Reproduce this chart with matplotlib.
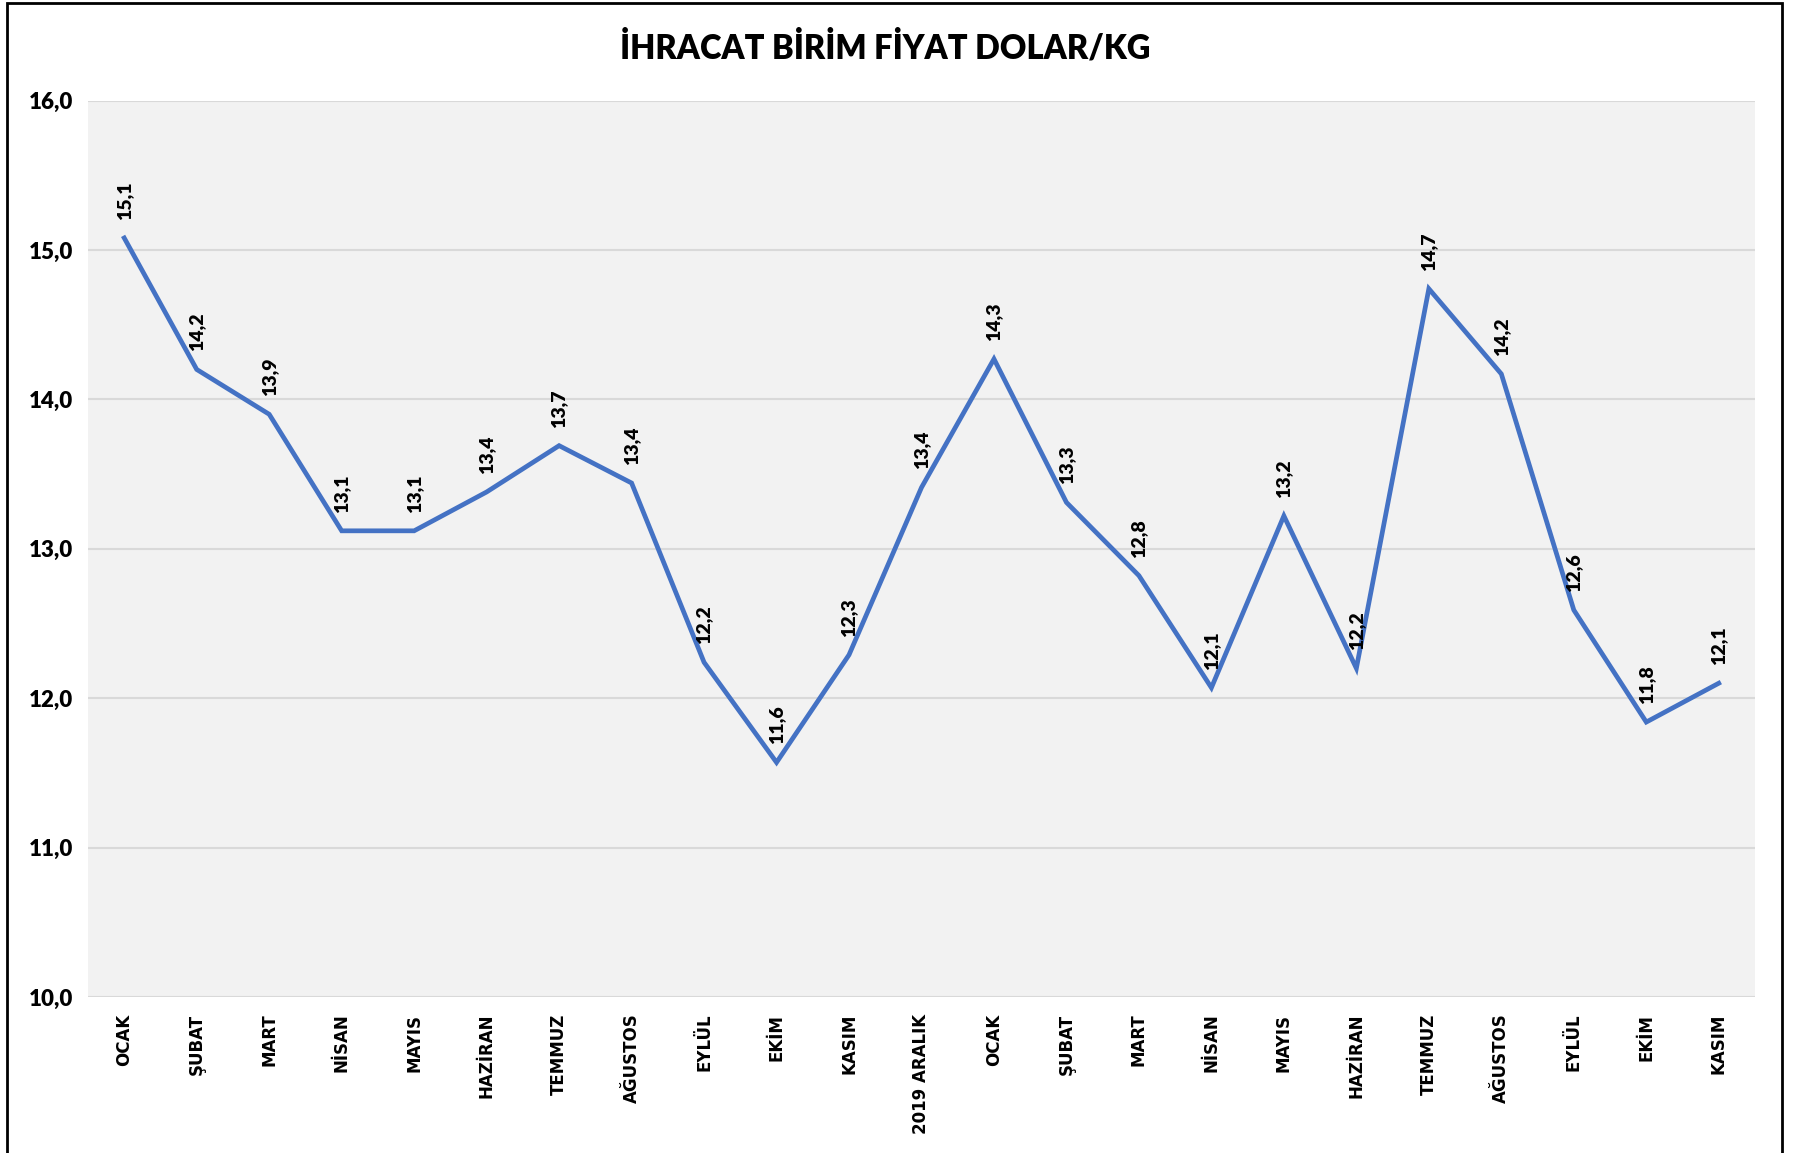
import matplotlib
matplotlib.use("Agg")
import matplotlib.pyplot as plt
from matplotlib.patches import Rectangle
from matplotlib.ticker import FuncFormatter, MultipleLocator

title = "İHRACAT BİRİM FİYAT DOLAR/KG"
months = ["OCAK", "ŞUBAT", "MART", "NİSAN", "MAYIS", "HAZİRAN", "TEMMUZ",
          "AĞUSTOS", "EYLÜL", "EKİM", "KASIM", "2019 ARALIK", "OCAK", "ŞUBAT",
          "MART", "NİSAN", "MAYIS", "HAZİRAN", "TEMMUZ", "AĞUSTOS", "EYLÜL",
          "EKİM", "KASIM"]
values = [15.08, 14.20, 13.90, 13.12, 13.12, 13.38, 13.69, 13.44, 12.24, 11.57,
          12.29, 13.41, 14.27, 13.31, 12.82, 12.07, 13.22, 12.20, 14.74, 14.17,
          12.59, 11.84, 12.10]
y_min, y_max, y_step = 10, 16, 1

W, H = 1793, 1153
fig = plt.figure(figsize=(W / 100, H / 100), dpi=100)
ax = fig.add_axes([88 / W, 1 - 997 / H, (1755 - 88) / W, (997 - 100.5) / H])
ax.set_facecolor("#F2F2F2")

x = list(range(len(values)))
ax.plot(x, values, color="#4472C4", linewidth=3.4, solid_joinstyle="miter", zorder=3)
for xi, v in zip(x, values):
    ax.annotate(f"{v:.1f}".replace(".", ","), (xi, v), xytext=(0, 13),
                textcoords="offset points", rotation=90, ha="center", va="bottom",
                fontsize=14, fontweight="heavy", family="Lato", color="black", zorder=4)

ax.set_xlim(-0.5, len(values) - 0.5)
ax.set_ylim(y_min, y_max)
ax.yaxis.set_major_locator(MultipleLocator(y_step))
ax.yaxis.set_major_formatter(FuncFormatter(lambda v, p: f"{v:.1f}".replace(".", ",")))
ax.grid(axis="y", color="#D9D9D9", linewidth=1.5, zorder=1)
ax.set_axisbelow(True)
for s in ax.spines.values():
    s.set_visible(False)
ax.tick_params(axis="both", length=0)
ax.tick_params(axis="y", pad=11)
ax.tick_params(axis="x", pad=12)
ax.set_xticks(x)
ax.set_xticklabels(months, rotation=90, fontsize=12, fontweight="bold", family="DejaVu Sans")
for t in ax.get_yticklabels():
    t.set_fontsize(16)
    t.set_fontweight("heavy")
    t.set_family("Lato")

fig.text(885 / W, 1 - 48 / H, title, ha="center", va="center", fontsize=23.5,
         fontweight="heavy", family="Lato")

fig.patches.append(Rectangle((7 / W, -0.05), (1782 - 7) / W, 1.05 - 3 / H,
                             transform=fig.transFigure, fill=False,
                             edgecolor="black", linewidth=2, clip_on=False))

fig.savefig("out.png", dpi=100, facecolor="white")
